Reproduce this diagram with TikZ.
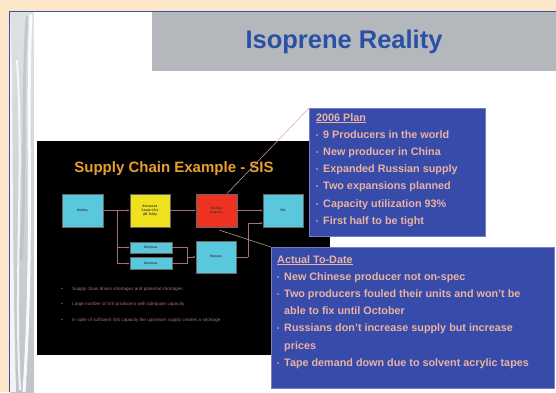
\documentclass[tikz,border=0pt]{standalone}
\usepackage{fontspec}
\setmainfont{Liberation Sans}
\usetikzlibrary{calc, positioning}
\usetikzlibrary{arrows.meta}

\definecolor{pagebeige}{RGB}{252,231,200}
\definecolor{framblue}{RGB}{60,80,170}
\definecolor{bandgray}{RGB}{180,184,188}
\definecolor{titleblue}{RGB}{40,80,165}
\definecolor{panelblue}{RGB}{55,75,170}
\definecolor{pinktext}{RGB}{236,178,160}
\definecolor{slidegold}{RGB}{232,160,50}
\definecolor{boxcyan}{RGB}{90,200,220}
\definecolor{boxyellow}{RGB}{240,225,30}
\definecolor{boxred}{RGB}{240,50,35}
\definecolor{wirepink}{RGB}{170,110,120}
\definecolor{stripgray}{RGB}{190,196,202}

\tikzset{
  chainbox/.style={draw=black!60, inner sep=0.5pt, align=center,
    font=\fontsize{3.2}{3.8}\selectfont\bfseries, text=black!80},
  wire/.style={draw=wirepink, line width=0.5pt},
  wirearrow/.style={wire, -{Latex[length=2.4pt,width=2pt]}},
  callout/.style={draw=pinktext!80!gray, line width=0.5pt},
  panel/.style={fill=panelblue, draw=panelblue!70!white, line width=0.6pt},
  paneltext/.style={anchor=north west, inner sep=0pt, align=left, text=pinktext,
    font=\fontsize{10.8}{17.2}\selectfont\bfseries},
}
\newcommand{\bul}{\makebox[7pt][l]{\raisebox{1pt}{\fontsize{6}{6}\selectfont\textbullet}}}
\newcommand{\indt}{\hspace*{7pt}}

\begin{document}
\begin{tikzpicture}[x=1pt, y=-1pt]
\useasboundingbox (0,0) rectangle (556,392);

% page and slide frame
\fill[pagebeige] (0,0) rectangle (556,392);
\fill[white] (9,11) rectangle (556,392);
\shade[top color=stripgray!50, bottom color=stripgray] (10,12) rectangle (34,392);
\fill[white, opacity=0.8] (10,12) .. controls (14,100) and (11,200) .. (16,392) -- (10,392) -- cycle;
\draw[white, line width=3pt, opacity=0.9] (31,14) .. controls (26,120) and (34,240) .. (24,392);
\draw[white, line width=2pt, opacity=0.8] (17,60) .. controls (24,170) and (14,280) .. (20,390);
\draw[gray!55, line width=3pt, opacity=0.6] (27,16) .. controls (22,100) and (26,180) .. (21,260);
\fill[white] (34,12) rectangle (38,392);
\draw[framblue, line width=0.8pt] (9,392) -- (9,11) -- (556,11);

% title band
\fill[bandgray] (152,12) rectangle (556,71);
\node[font=\fontsize{25.5}{26}\selectfont\bfseries, text=titleblue] (title) at (344,42) {Isoprene Reality};

% embedded slide
\fill[black] (37,141) rectangle (330,355);
\node[font=\fontsize{15}{15}\selectfont\bfseries, text=slidegold] (sctitle) at (174,169) {Supply Chain Example - SIS};

\node[chainbox, fill=boxcyan, minimum width=41pt, minimum height=33pt] (olefin) at (82.5,210.5) {Olefins};
\node[chainbox, fill=boxyellow, minimum width=40pt, minimum height=33pt] (crude) at (150,210.5) {Extracted\\Crude C5's\\(IR Tolls)};
\node[chainbox, fill=boxred, minimum width=41pt, minimum height=33pt] (iso) at (216.5,210.5) {Purified\\Isoprene};
\node[chainbox, fill=boxcyan, minimum width=40pt, minimum height=33pt] (sis) at (283,210.5) {SIS};
\node[chainbox, fill=boxcyan, minimum width=42pt, minimum height=11pt] (eth) at (151,247.5) {Ethylene};
\node[chainbox, fill=boxcyan, minimum width=42pt, minimum height=12pt] (benz) at (151,263.5) {Benzene};
\node[chainbox, fill=boxcyan, minimum width=40pt, minimum height=32pt] (sty) at (216,257) {Styrene};

\coordinate (split) at (117,210.5);
\coordinate (join) at (187,257);
\coordinate (rise) at (248,257);
\coordinate (sisin) at (263,223);

\draw[wirearrow] (olefin) -- (crude);
\draw[wirearrow] (crude) -- (iso);
\draw[wirearrow] (iso) -- (sis);
\draw[wirearrow] (split) |- (eth.west);
\draw[wirearrow] (split) |- (benz.west);
\draw[wire] (eth.east) -| (join);
\draw[wire] (benz.east) -| (join);
\draw[wirearrow] (join) -- (sty.west);
\draw[wire] (sty.east) -- (rise);
\draw[wirearrow] (rise) |- (sisin);

\foreach \yy/\txt in {289/Supply chain drives shortages and potential shortages,
                      304/Large number of SIS producers with adequate capacity,
                      320/In spite of sufficient SIS capacity the upstream supply creates a shortage} {
  \node[text=wirepink, font=\fontsize{5}{5}\selectfont] at (62,\yy) {\textbullet};
  \node[anchor=west, inner sep=0pt, text=wirepink!80!gray, font=\fontsize{4.6}{5}\selectfont] at (72,\yy) {\txt};
}

% callout lines
\coordinate (planfoot) at ($(iso.north)!0.5!(iso.north east)$);
\coordinate (actfoot) at ($(iso.south)+(3,3)$);

% blue panels
\node[panel, minimum width=176pt, minimum height=128pt, anchor=north west, inner sep=0pt] (plan) at (309,108) {};
\node[panel, minimum width=283pt, minimum height=141pt, anchor=north west, inner sep=0pt] (actual) at (271,247) {};
\draw[callout] (planfoot) -- (plan.north west);
\draw[callout] (actfoot) -- (actual.north west);

\node[paneltext] (plantext) at (316,113) {\underline{2006 Plan}\\
\bul 9 Producers in the world\\
\bul New producer in China\\
\bul Expanded Russian supply\\
\bul Two expansions planned\\
\bul Capacity utilization 93\%\\
\bul First half to be tight};

\node[paneltext] (acttext) at (277,255) {\underline{Actual To-Date}\\
\bul New Chinese producer not on-spec\\
\bul Two producers fouled their units and won't be\\
\indt able to fix until October\\
\bul Russians don't increase supply but increase\\
\indt prices\\
\bul Tape demand down due to solvent acrylic tapes};
\end{tikzpicture}
\end{document}
